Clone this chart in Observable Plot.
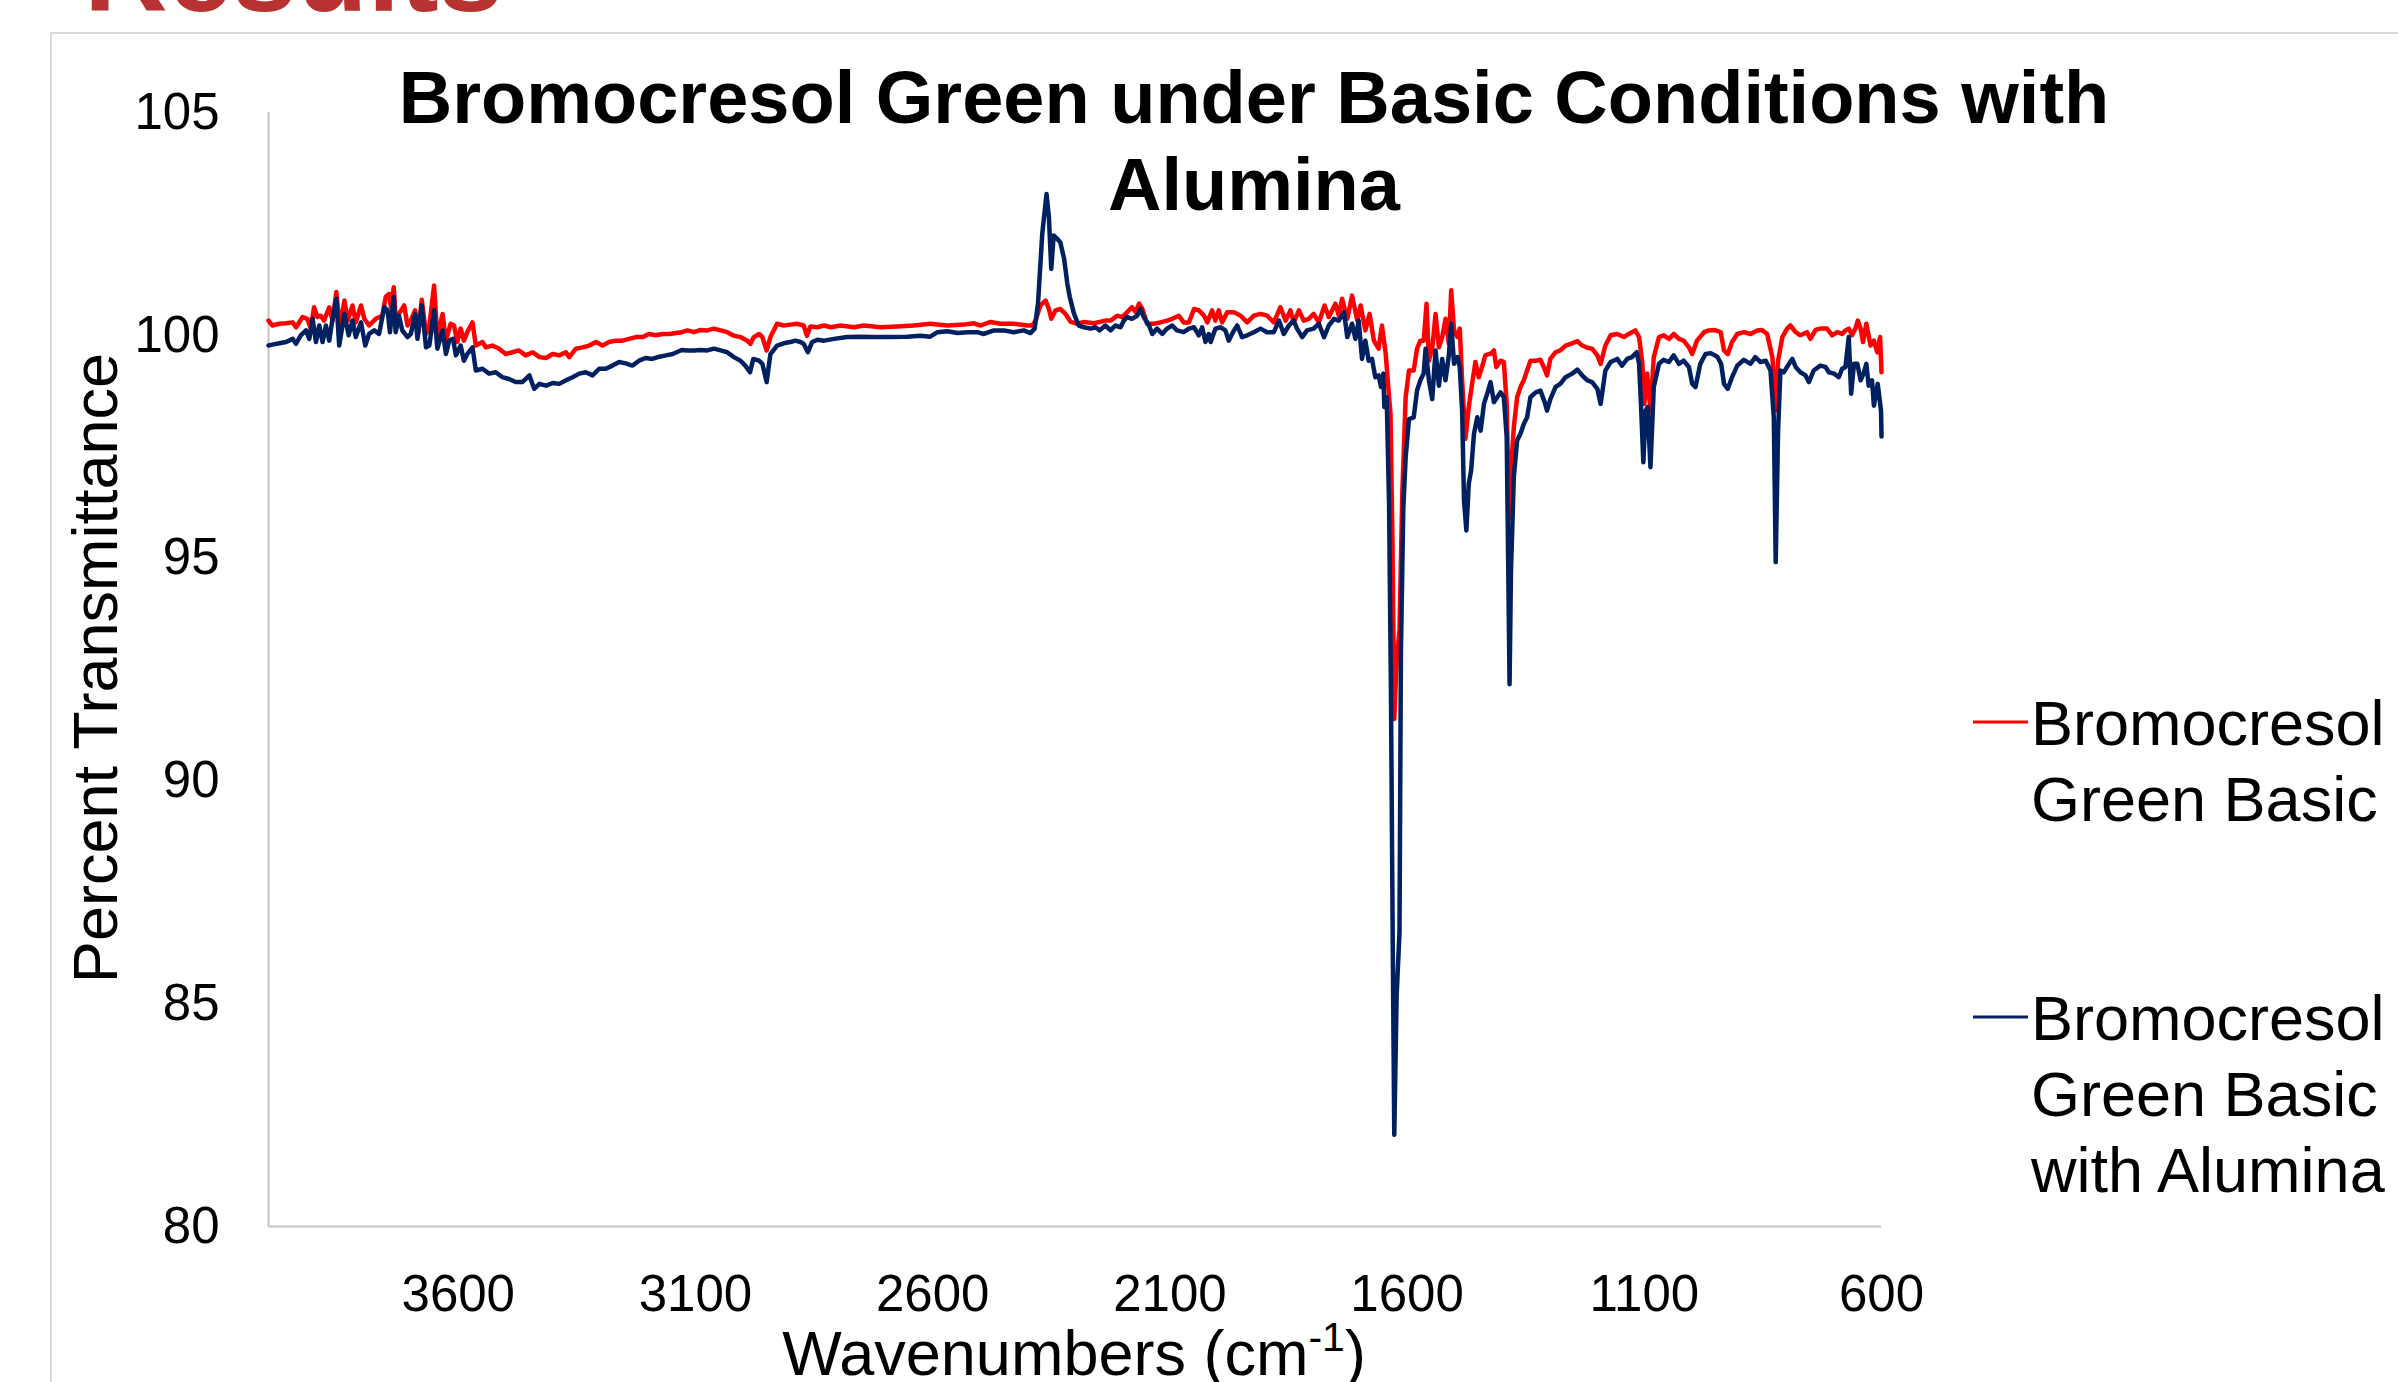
<!DOCTYPE html>
<html>
<head>
<meta charset="utf-8">
<script src="https://cdn.jsdelivr.net/npm/d3@7"></script>
<script src="https://cdn.jsdelivr.net/npm/@observablehq/plot@0.6"></script>
<style>
  html, body { margin: 0; padding: 0; background: #ffffff; }
  body { width: 2398px; height: 1382px; position: relative; overflow: hidden; font-family: "Liberation Sans", Arial, sans-serif; }
  #chart { position: absolute; left: 0; top: 0; }
  .frame { position: absolute; background: #d9d9d9; }
</style>
</head>
<body>
<div class="frame" style="left:50px;top:32px;width:2348px;height:2px;"></div>
<div class="frame" style="left:50px;top:32px;width:2px;height:1350px;"></div>
<div id="chart"></div>
<script>
// ---------- data (wavenumber cm-1, percent transmittance) ----------
const titleLines = ["Bromocresol Green under Basic Conditions with", "Alumina"];
const xTitle = "Wavenumbers (cm";
const xTitleSup = "-1";
const yTitle = "Percent Transmittance";
const headingText = "Results";
const wnTicks = [3600, 3100, 2600, 2100, 1600, 1100, 600];
const tTicks = [80, 85, 90, 95, 100, 105];
const seriesNames = [["Bromocresol", "Green Basic"], ["Bromocresol", "Green Basic", "with Alumina"]];
const seriesColors = ["#FF0000", "#002060"];

const basic = [
[4000,100.33],[3992,100.22],[3977,100.26],[3963,100.27],[3949,100.29],[3942,100.18],[3928,100.41],[3918,100.37],[3911,100.15],[3904,100.63],
[3897,100.41],[3890,100.44],[3883,100.33],[3872,100.63],[3865,100.33],[3857,100.97],[3850,100.18],[3840,100.78],[3833,100.33],[3823,100.67],
[3816,100.29],[3805,100.67],[3798,100.37],[3788,100.22],[3774,100.37],[3760,100.44],[3753,100.86],[3746,100.93],[3742,100.63],[3736,101.08],
[3732,100.41],[3725,100.48],[3714,100.67],[3707,100.22],[3700,100.33],[3691,100.56],[3684,100.07],[3677,100.80],[3668,100.03],[3661,100.22],
[3651,101.12],[3644,99.96],[3633,100.48],[3626,99.88],[3616,100.26],[3609,100.22],[3602,99.85],[3595,100.15],[3588,99.88],[3581,100.07],
[3570,100.29],[3563,99.77],[3549,99.85],[3542,99.73],[3528,99.77],[3514,99.70],[3500,99.58],[3486,99.62],[3472,99.66],[3458,99.55],
[3443,99.62],[3429,99.51],[3415,99.49],[3401,99.58],[3387,99.55],[3373,99.62],[3366,99.51],[3352,99.70],[3338,99.73],[3324,99.77],
[3310,99.85],[3296,99.77],[3282,99.85],[3268,99.88],[3254,99.88],[3240,99.92],[3226,99.96],[3211,99.96],[3198,100.03],[3184,100.00],
[3169,100.03],[3155,100.03],[3141,100.05],[3129,100.07],
[3117,100.11],[3103,100.07],[3089,100.12],[3075,100.11],[3061,100.15],[3047,100.11],[3033,100.07],[3019,99.99],[3005,99.96],[2991,99.88],
[2984,99.81],[2977,99.96],[2966,100.03],[2959,99.96],[2950,99.66],[2942,99.96],[2928,100.26],[2914,100.22],[2900,100.24],[2886,100.26],
[2872,100.22],[2865,99.99],[2858,100.20],[2843,100.18],[2829,100.22],[2815,100.18],[2794,100.22],[2766,100.18],[2745,100.22],[2710,100.18],
[2675,100.20],[2640,100.22],[2605,100.26],[2569,100.22],[2534,100.24],[2513,100.27],[2499,100.22],[2478,100.30],[2457,100.26],[2429,100.26],
[2401,100.22],[2390,100.22],[2383,100.33],[2373,100.67],[2362,100.78],[2355,100.59],[2350,100.37],[2341,100.56],[2331,100.59],[2320,100.48],
[2309,100.30],[2295,100.26],[2281,100.30],[2260,100.27],[2248,100.30],
[2236,100.33],[2225,100.33],[2211,100.44],[2201,100.41],[2190,100.52],[2180,100.63],[2172,100.52],[2165,100.71],[2158,100.59],[2148,100.26],
[2134,100.26],[2120,100.29],[2106,100.33],[2095,100.37],[2081,100.44],[2071,100.29],[2060,100.29],[2049,100.59],[2039,100.56],[2028,100.44],
[2021,100.29],[2011,100.56],[2004,100.33],[1997,100.56],[1990,100.29],[1979,100.52],[1965,100.52],[1951,100.44],[1937,100.29],[1923,100.44],
[1909,100.48],[1895,100.44],[1881,100.29],[1867,100.63],[1856,100.33],[1846,100.56],[1839,100.29],[1828,100.56],[1818,100.33],[1807,100.37],
[1797,100.48],[1786,100.29],[1774,100.67],[1765,100.41],[1751,100.71],[1744,100.44],[1737,100.82],[1726,100.37],[1716,100.89],[1705,100.33],
[1698,100.67],[1688,100.11],[1679,100.48],[1670,99.88],[1660,99.70],[1653,100.22],[1645,99.58],[1638,98.61],[1635,98.24],[1631,95.5],
[1627,91.39],[1622,92.7],[1616,93.4],[1610,96.5],[1603,98.61],[1596,99.21],[1586,99.21],[1579,99.70],[1572,99.88],[1565,99.88],
[1559,100.71],[1554,99.43],[1547,99.70],[1540,100.48],[1533,99.73],[1526,99.96],[1519,100.37],[1512,99.81],[1507,101.01],[1501,100.11],
[1494,99.96],[1489,100.15],[1484,98.99],[1477,97.68],[1470,98.39],[1463,98.91],[1456,99.40],[1449,99.06],[1442,99.29],[1435,99.55],
[1428,99.58],
[1424,99.58],[1417,99.66],[1412,99.29],[1403,99.43],[1396,99.40],[1390,98.46],[1385,95.88],[1381,96.97],[1375,97.94],[1368,98.61],
[1361,98.84],[1354,98.99],[1347,99.21],[1340,99.43],[1329,99.43],[1319,99.45],[1312,99.29],[1305,99.10],[1298,99.47],[1287,99.62],
[1277,99.66],[1266,99.77],[1252,99.82],[1241,99.87],[1231,99.77],[1220,99.72],[1210,99.70],[1199,99.55],[1192,99.36],[1182,99.77],
[1171,100.00],[1157,100.03],[1143,99.96],[1133,100.03],[1119,100.11],[1111,99.96],[1104,99.36],[1100,98.46],[1094,99.14],[1087,98.31],
[1080,99.51],[1069,99.96],[1059,100.00],[1048,99.92],[1038,100.03],[1027,99.92],[1017,99.88],[1006,99.73],[999,99.58],[989,99.88],
[974,100.07],[964,100.11],[953,100.12],[939,100.07],[932,99.66],[924,99.58],[915,99.85],[904,100.03],[890,100.07],[876,100.03],
[862,100.11],[852,100.12],[841,100.03],[830,99.51],[823,98.31],[818,99.43],[809,99.96],[799,100.15],[792,100.22],[781,100.07],
[771,100.00],[757,100.07],[750,99.92],[739,100.12],[729,100.15],[715,100.15],[704,100.00],[693,100.07],[683,100.03],[676,100.11],
[669,100.15],[662,100.00],[655,100.15],[650,100.33],[644,100.15],[639,99.85],[632,100.26],[623,99.77],[616,99.88],[609,99.62],
[603,99.96],[600,99.17]
];

const withAlumina = [
[4000,99.77],[3992,99.79],[3977,99.82],[3963,99.85],[3949,99.92],[3942,99.81],[3932,100.00],[3921,100.11],[3914,99.92],[3907,100.37],
[3900,99.85],[3893,100.22],[3886,99.85],[3879,100.22],[3872,99.88],[3865,100.37],[3857,100.82],[3851,99.77],[3840,100.48],[3831,100.00],
[3823,100.33],[3816,99.96],[3805,100.29],[3796,99.77],[3788,100.03],[3777,100.11],[3767,100.03],[3756,100.63],[3749,100.56],[3744,100.07],
[3736,100.86],[3732,100.07],[3725,100.44],[3718,100.11],[3707,99.96],[3700,100.03],[3691,100.48],[3686,99.92],[3677,100.67],[3668,99.73],
[3661,99.77],[3651,100.56],[3644,99.70],[3633,100.11],[3626,99.58],[3619,99.88],[3611,99.92],[3605,99.55],[3595,99.77],[3588,99.43],
[3581,99.58],[3570,99.73],[3563,99.21],[3549,99.25],[3535,99.14],[3521,99.17],[3507,99.06],[3493,99.02],[3479,98.95],[3465,98.95],
[3450,99.10],[3440,98.80],[3429,98.91],[3415,98.87],[3401,98.93],[3387,98.91],[3373,98.99],[3359,99.06],[3345,99.14],[3331,99.17],
[3317,99.10],[3303,99.25],[3289,99.25],[3275,99.32],[3261,99.40],[3247,99.37],[3233,99.32],[3219,99.43],[3205,99.49],[3191,99.47],
[3176,99.52],[3162,99.55],[3148,99.58],[3129,99.67],
[3117,99.66],[3103,99.66],[3089,99.67],[3075,99.66],[3061,99.70],[3047,99.66],[3033,99.62],[3019,99.51],[3005,99.43],[2995,99.32],
[2985,99.17],[2978,99.47],[2966,99.43],[2959,99.36],[2950,98.95],[2942,99.58],[2928,99.77],[2914,99.82],[2900,99.85],[2889,99.88],
[2879,99.85],[2872,99.81],[2863,99.62],[2854,99.85],[2843,99.90],[2829,99.88],[2808,99.92],[2780,99.96],[2752,99.97],[2724,99.96],
[2696,99.96],[2654,99.97],[2626,99.99],[2605,99.97],[2590,100.07],[2569,100.09],[2548,100.05],[2527,100.07],[2506,100.07],[2492,100.03],
[2471,100.11],[2450,100.11],[2429,100.07],[2408,100.11],[2394,100.05],[2385,100.15],[2378,100.71],[2369,102.28],[2360,103.17],[2355,102.65],
[2350,101.49],[2345,102.24],[2338,102.17],[2331,102.09],[2323,101.72],[2316,101.15],[2311,100.86],[2302,100.48],[2292,100.22],[2281,100.18],
[2267,100.15],[2257,100.18],[2248,100.11],
[2236,100.22],[2225,100.11],[2215,100.22],[2204,100.18],[2197,100.33],[2190,100.41],[2180,100.37],[2169,100.44],[2162,100.59],[2155,100.41],
[2144,100.22],[2137,100.03],[2127,100.15],[2116,100.03],[2106,100.15],[2095,100.22],[2085,100.11],[2071,100.07],[2060,100.15],[2049,100.18],
[2039,100.00],[2032,100.18],[2025,99.85],[2018,100.03],[2014,99.85],[2004,100.15],[1993,100.18],[1983,100.11],[1976,99.88],[1965,100.11],
[1958,100.22],[1948,99.96],[1937,100.00],[1923,100.07],[1909,100.15],[1895,100.07],[1881,100.07],[1870,100.33],[1860,100.03],[1849,100.22],
[1839,100.33],[1832,100.15],[1821,99.96],[1811,100.11],[1797,100.15],[1786,100.26],[1775,99.96],[1765,100.22],[1754,100.37],[1744,100.33],
[1733,100.52],[1726,99.96],[1716,100.26],[1709,99.92],[1702,100.33],[1695,99.47],[1688,99.88],[1681,99.43],[1674,99.47],[1667,99.06],
[1660,99.10],[1655,98.84],[1650,99.14],[1648,98.39],[1643,98.61],[1638,96.22],[1634,92.0],[1630,86.0],[1627,82.06],[1622,85.2],
[1616,86.6],[1613,92.9],[1608,96.1],[1603,97.26],[1596,98.12],[1586,98.16],[1579,98.76],[1572,98.99],[1565,99.14],[1561,99.70],
[1554,98.99],[1547,98.57],[1540,99.66],[1533,98.87],[1526,99.47],[1519,98.99],[1512,99.55],[1507,100.26],[1501,99.36],[1494,99.51],
[1489,99.29],[1484,98.31],[1480,96.29],[1475,95.62],[1470,96.67],[1465,96.97],[1459,97.79],[1452,98.16],[1445,97.86],[1438,98.46],
[1431,98.69],
[1424,98.95],[1417,98.50],[1410,98.61],[1403,98.72],[1396,98.61],[1390,97.71],[1387,95.0],[1384,92.17],[1381,94.72],[1375,96.82],
[1368,97.64],[1361,97.79],[1354,98.01],[1347,98.16],[1340,98.61],[1329,98.72],[1319,98.76],[1310,98.50],[1305,98.31],[1298,98.57],
[1287,98.84],[1277,98.91],[1266,99.06],[1252,99.14],[1241,99.23],[1231,99.10],[1220,98.99],[1210,98.95],[1199,98.80],[1192,98.46],
[1182,99.21],[1171,99.40],[1157,99.47],[1147,99.32],[1136,99.47],[1126,99.51],[1116,99.62],[1111,99.36],[1107,98.46],[1102,97.15],
[1097,98.31],[1093,98.39],[1087,97.04],[1080,98.84],[1069,99.36],[1059,99.45],[1048,99.40],[1038,99.55],[1027,99.36],[1017,99.43],
[1006,99.29],[999,98.91],[992,98.84],[982,99.36],[971,99.58],[960,99.60],[946,99.52],[938,99.36],[932,98.91],[924,98.80],
[915,99.06],[904,99.32],[890,99.45],[876,99.36],[866,99.51],[855,99.40],[844,99.43],[834,99.21],[827,98.16],[823,94.91],
[818,97.86],[813,99.21],[806,99.17],[795,99.36],[788,99.47],[781,99.29],[771,99.17],[760,99.10],[753,98.95],[743,99.21],
[729,99.32],[718,99.29],[711,99.17],[700,99.14],[690,99.06],[683,99.25],[676,99.29],[669,99.96],[664,98.69],[658,99.36],
[651,99.36],[644,98.99],[637,99.17],[632,99.36],[627,98.87],[620,98.99],[616,98.42],[608,98.91],[601,98.31],[600,97.73]
];

// ---------- chart ----------
const W = 2398, H = 1382;
const chart = Plot.plot({
  width: W,
  height: H,
  marginLeft: 268,
  marginRight: 517,
  marginTop: 112,
  marginBottom: 156,
  style: {
    fontFamily: "'Liberation Sans', Arial, sans-serif",
    fontSize: "51px",
    color: "#000000",
    background: "transparent",
    overflow: "visible"
  },
  x: { domain: [4000, 600], axis: null },
  y: { domain: [80, 105], axis: null },
  marks: [
    Plot.ruleX([4000], { stroke: "#c6c6c6", strokeWidth: 2 }),
    Plot.ruleY([80], { stroke: "#c6c6c6", strokeWidth: 2 }),
    Plot.axisX({ ticks: wnTicks, tickSize: 0, tickPadding: 48, tickFormat: d => String(d), label: null, fill: "#000" }),
    Plot.axisY({ ticks: tTicks, tickSize: 0, tickPadding: 49, tickFormat: d => String(d), label: null, fill: "#000" }),
    Plot.line(basic, { x: d => d[0], y: d => d[1], stroke: seriesColors[0], strokeWidth: 4.5 }),
    Plot.line(withAlumina, { x: d => d[0], y: d => d[1], stroke: seriesColors[1], strokeWidth: 4.5 })
  ]
});
document.getElementById("chart").appendChild(chart);

// ---------- text overlays (title, axis titles, legend, heading) ----------
const svg = d3.select(chart);
const font = "'Liberation Sans', Arial, sans-serif";

// slide heading (cut off at the top)
svg.append("text")
  .attr("x", 84).attr("y", 11)
  .attr("text-anchor", "start")
  .attr("font-family", font).attr("font-size", 116).attr("font-weight", "bold")
  .attr("fill", "#b83232")
  .text(headingText);

// title
titleLines.forEach((line, i) => {
  svg.append("text")
    .attr("x", 1254).attr("y", 123 + i * 87)
    .attr("text-anchor", "middle")
    .attr("font-family", font).attr("font-size", 74).attr("font-weight", "bold")
    .attr("fill", "#000")
    .text(line);
});

// x axis title with superscript
const xt = svg.append("text")
  .attr("x", 1074).attr("y", 1375)
  .attr("text-anchor", "middle")
  .attr("font-family", font).attr("font-size", 63)
  .attr("fill", "#000");
xt.append("tspan").text(xTitle);
xt.append("tspan").attr("dy", -24).attr("font-size", 41).text(xTitleSup);
xt.append("tspan").attr("dy", 24).text(")");

// y axis title
svg.append("text")
  .attr("transform", "translate(117,668) rotate(-90)")
  .attr("text-anchor", "middle")
  .attr("font-family", font).attr("font-size", 63)
  .attr("fill", "#000")
  .text(yTitle);

// legend
const legendY = [722, 1017];
seriesNames.forEach((lines, i) => {
  const y = legendY[i];
  svg.append("line")
    .attr("x1", 1973).attr("x2", 2028).attr("y1", y).attr("y2", y)
    .attr("stroke", seriesColors[i]).attr("stroke-width", 3);
  lines.forEach((t, j) => {
    svg.append("text")
      .attr("x", 2031).attr("y", y + 23 + j * 76)
      .attr("text-anchor", "start")
      .attr("font-family", font).attr("font-size", 63)
      .attr("fill", "#000")
      .text(t);
  });
});
</script>
</body>
</html>
